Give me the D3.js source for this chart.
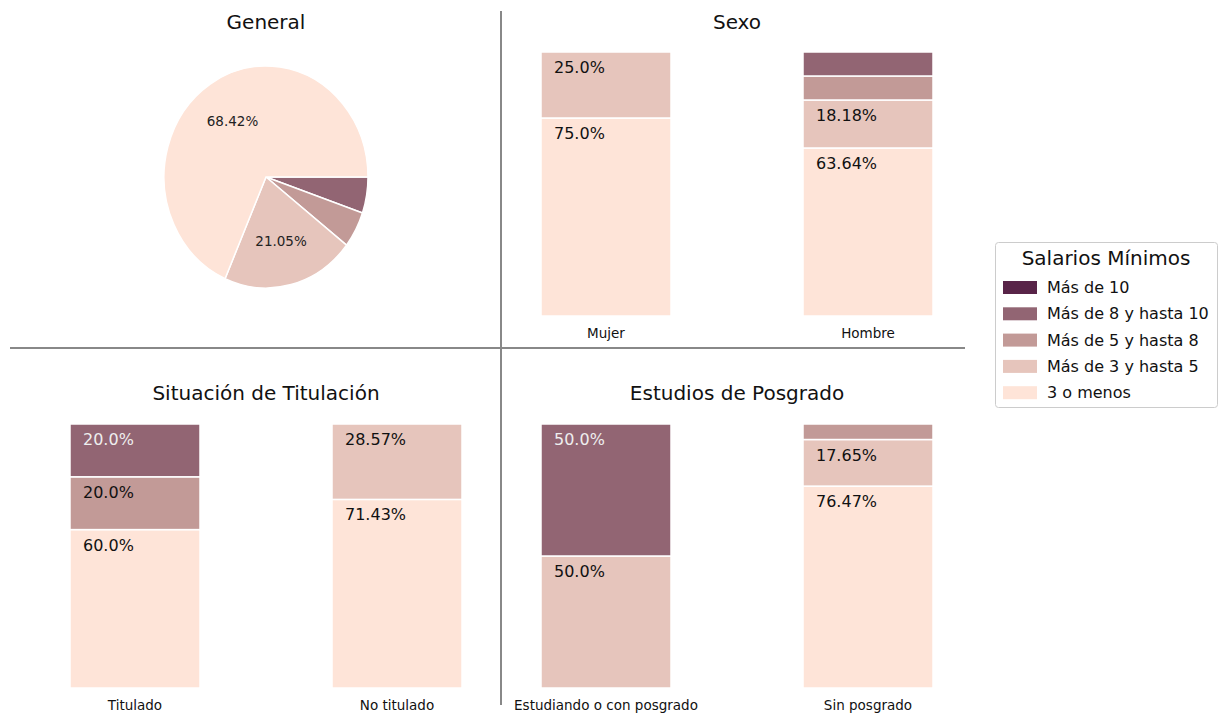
<!DOCTYPE html>
<html>
<head>
<meta charset="utf-8">
<script src="https://cdn.jsdelivr.net/npm/d3@7"></script>
<style>
  body { margin: 0; background: #fff; }
  svg { font-family: "DejaVu Sans", sans-serif; }
</style>
</head>
<body>
<svg id="chart" width="1222" height="715"></svg>
<script>
// salary brackets (legend order) and their colours
const categories = ['Más de 10', 'Más de 8 y hasta 10', 'Más de 5 y hasta 8', 'Más de 3 y hasta 5', '3 o menos'];
const palette = ['#582448', '#926573', '#c29a97', '#e6c5bc', '#fee4d8'];

// percentages, same order as categories
const generalValues = [0, 5.26, 5.26, 21.05, 68.42];

const sexoGroups = ['Mujer', 'Hombre'];
const sexoValues = [
    [0, 0, 0, 25.0, 75.0],
    [0, 9.09, 9.09, 18.18, 63.64],
];

const tituloGroups = ['Titulado', 'No titulado'];
const tituloValues = [
    [0, 20.0, 20.0, 0, 60.0],
    [0, 0, 0, 28.57, 71.43],
];

const posgradoGroups = ['Estudiando o con posgrado', 'Sin posgrado'];
const posgradoValues = [
    [0, 50.0, 0, 50.0, 0],
    [0, 0, 5.88, 17.65, 76.47],
];

const svg = d3.select('#chart');
const color = d3.scaleOrdinal(categories, palette);
const fmt = v => (Number.isInteger(v) ? v.toFixed(1) : v.toFixed(2)) + '%';

// ---- dividers
svg.append('line').attr('x1', 501).attr('x2', 501).attr('y1', 11).attr('y2', 705)
    .attr('stroke', '#888').attr('stroke-width', 2);
svg.append('line').attr('x1', 10).attr('x2', 965).attr('y1', 348).attr('y2', 348)
    .attr('stroke', '#888').attr('stroke-width', 2);

function title(x, y, txt) {
    svg.append('text').attr('x', x).attr('y', y).attr('text-anchor', 'middle')
        .attr('font-size', 20).attr('fill', '#111').text(txt);
}

// ---- pie
title(266, 29, 'General');
const cx = 266, cy = 177, rx = 102, ry = 111;
const pieData = categories.map((c, i) => ({ cat: c, value: generalValues[i] }))
    .filter(d => d.value > 0);
// clockwise from 3 o'clock, starting with the highest bracket
const pie = d3.pie().sort(null).value(d => d.value)
    .startAngle(Math.PI / 2).endAngle(Math.PI / 2 + 2 * Math.PI);
const arc = d3.arc().innerRadius(0).outerRadius(rx);
const labelArc = d3.arc().innerRadius(rx * 0.6).outerRadius(rx * 0.6);
const arcs = pie(pieData);
const pg = svg.append('g').attr('transform', `translate(${cx},${cy})`);
pg.append('g').attr('transform', `scale(1,${ry / rx})`)
    .selectAll('path').data(arcs).join('path')
    .attr('d', arc)
    .attr('fill', d => color(d.data.cat))
    .attr('stroke', '#fff').attr('stroke-width', 1.5)
    .attr('vector-effect', 'non-scaling-stroke');
pg.selectAll('text').data(arcs.filter(d => d.data.value > 10)).join('text')
    .attr('x', d => labelArc.centroid(d)[0])
    .attr('y', d => labelArc.centroid(d)[1] * ry / rx)
    .attr('dy', '0.35em')
    .attr('text-anchor', 'middle').attr('font-size', 13.5).attr('fill', '#222')
    .text(d => fmt(d.data.value));

// ---- stacked bars
const stackKeys = categories.slice().reverse();
const bw = 130;

function barPanel(groups, values, x0, x1, top, bottom, titleY, txt) {
    title((x0 + x1) / 2, titleY, txt);
    const rows = groups.map((g, i) => {
        const r = { group: g };
        categories.forEach((c, j) => { r[c] = values[i][j]; });
        return r;
    });
    const x = d3.scalePoint().domain(groups).range([x0 + bw / 2, x1 - bw / 2]);
    const y = d3.scaleLinear().domain([0, 100]).range([bottom, top]);
    const series = d3.stack().keys(stackKeys)(rows);
    const g = svg.append('g');
    series.forEach(s => {
        s.forEach((d, i) => {
            const v = d[1] - d[0];
            if (v <= 0) return;
            const cxm = x(d.data.group);
            g.append('rect')
                .attr('x', cxm - bw / 2).attr('width', bw)
                .attr('y', y(d[1])).attr('height', y(d[0]) - y(d[1]))
                .attr('fill', color(s.key))
                .attr('stroke', '#fff').attr('stroke-width', 1.5);
            if (v > 10) {
                g.append('text')
                    .attr('x', cxm - bw / 2 + 13).attr('y', y(d[1]) + 21)
                    .attr('font-size', 16)
                    .attr('fill', s.key === 'Más de 8 y hasta 10' ? '#eee' : '#111')
                    .text(fmt(values[i][categories.indexOf(s.key)]));
            }
        });
    });
    groups.forEach(gr => {
        g.append('text').attr('x', x(gr)).attr('y', bottom + 22)
            .attr('text-anchor', 'middle').attr('font-size', 13.5).attr('fill', '#111').text(gr);
    });
}

barPanel(sexoGroups, sexoValues, 541, 933, 52, 316, 29, 'Sexo');
barPanel(tituloGroups, tituloValues, 70, 462, 424, 688, 400, 'Situación de Titulación');
barPanel(posgradoGroups, posgradoValues, 541, 933, 424, 688, 400, 'Estudios de Posgrado');

// ---- legend
const lg = svg.append('g').attr('transform', 'translate(995,242)');
lg.append('rect').attr('x', 0.5).attr('y', 0.5).attr('width', 222).attr('height', 165)
    .attr('rx', 3).attr('fill', '#fff').attr('stroke', '#ccc');
lg.append('text').attr('x', 111).attr('y', 23).attr('text-anchor', 'middle')
    .attr('font-size', 20).attr('fill', '#111').text('Salarios Mínimos');
const items = lg.selectAll('g.item').data(categories).join('g').attr('class', 'item')
    .attr('transform', (d, i) => `translate(0,${45 + i * 26.3})`);
items.append('rect').attr('x', 8).attr('y', -6).attr('width', 34).attr('height', 13)
    .attr('fill', d => color(d));
items.append('text').attr('x', 52).attr('y', 6).attr('font-size', 16).attr('fill', '#111').text(d => d);
</script>
</body>
</html>
